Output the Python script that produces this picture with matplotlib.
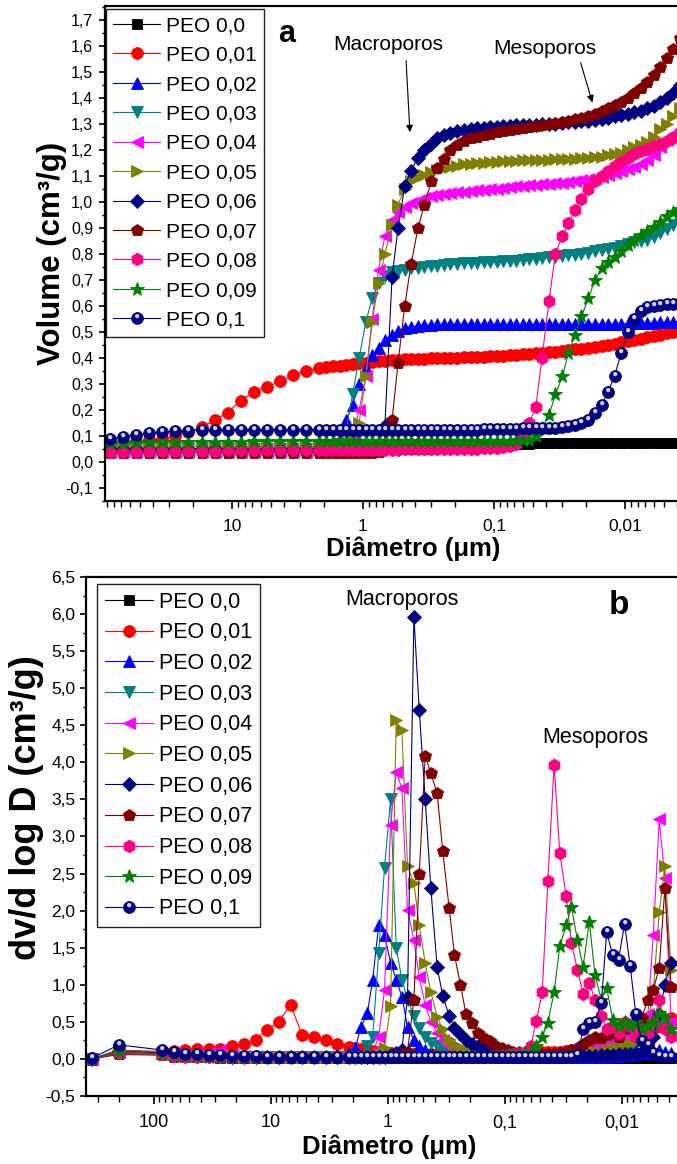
import numpy as np
import matplotlib
matplotlib.use("Agg")
import matplotlib.pyplot as plt
from matplotlib.ticker import MultipleLocator, LogLocator, FuncFormatter, NullFormatter
from matplotlib.path import Path
from matplotlib.transforms import Affine2D
from matplotlib.legend_handler import HandlerTuple

plt.rcParams["font.family"] = ["Liberation Sans", "DejaVu Sans"]

# Diâmetro de poro (μm), comum às duas curvas
diametro = [340, 200, 85, 68, 54, 43, 34, 27, 21.5, 17,
            13.5, 10.8, 8.6, 6.8, 5.4, 4.3, 3.4, 2.7, 2.15,
            1.9, 1.7, 1.5, 1.35, 1.2, 1.07, 0.95, 0.85, 0.76, 0.68,
            0.6, 0.54, 0.48, 0.43, 0.38, 0.34, 0.3, 0.27, 0.24, 0.215,
            0.19, 0.17, 0.15, 0.135, 0.12, 0.107, 0.095, 0.085, 0.076, 0.068,
            0.06, 0.054, 0.048, 0.043, 0.038, 0.034, 0.03, 0.027, 0.024, 0.0215,
            0.019, 0.017, 0.015, 0.0135, 0.012, 0.0107, 0.0095, 0.0085, 0.0076, 0.0068,
            0.006, 0.0054, 0.0048, 0.0043, 0.0038]

rotulos = ["PEO 0,0", "PEO 0,01", "PEO 0,02", "PEO 0,03", "PEO 0,04", "PEO 0,05",
           "PEO 0,06", "PEO 0,07", "PEO 0,08", "PEO 0,09", "PEO 0,1"]

# ---- (a) volume acumulado (cm³/g)
vol_000 = [0.05, 0.05, 0.05, 0.05, 0.05, 0.05, 0.05, 0.05, 0.05, 0.05,
           0.05, 0.05, 0.05, 0.05, 0.05, 0.05, 0.05, 0.05, 0.05,
           0.05, 0.05, 0.05, 0.05, 0.05, 0.05, 0.05, 0.05, 0.05, 0.05,
           0.05, 0.05, 0.05, 0.05, 0.051, 0.051, 0.052, 0.052, 0.053, 0.053,
           0.054, 0.055, 0.056, 0.057, 0.058, 0.06, 0.062, 0.064, 0.066, 0.068,
           0.07, 0.071, 0.072, 0.072, 0.073, 0.073, 0.073, 0.073, 0.073, 0.073,
           0.073, 0.073, 0.073, 0.073, 0.073, 0.073, 0.073, 0.073, 0.073, 0.073,
           0.073, 0.073, 0.073, 0.073, 0.073]
vol_001 = [0.06, 0.065, 0.07, 0.075, 0.08, 0.085, 0.09, 0.1, 0.115, 0.135,
           0.16, 0.19, 0.235, 0.27, 0.29, 0.31, 0.335, 0.35, 0.36,
           0.365, 0.368, 0.371, 0.374, 0.377, 0.38, 0.382, 0.385, 0.387, 0.39,
           0.392, 0.394, 0.395, 0.396, 0.397, 0.398, 0.399, 0.4, 0.4, 0.4,
           0.401, 0.402, 0.403, 0.404, 0.405, 0.406, 0.407, 0.408, 0.41, 0.412,
           0.414, 0.416, 0.418, 0.42, 0.422, 0.425, 0.428, 0.43, 0.433, 0.436,
           0.44, 0.443, 0.447, 0.451, 0.455, 0.46, 0.465, 0.47, 0.475, 0.48,
           0.485, 0.49, 0.495, 0.5, 0.505]
vol_002 = [0.05, 0.055, 0.06, 0.06, 0.06, 0.06, 0.06, 0.06, 0.06, 0.06,
           0.06, 0.06, 0.06, 0.06, 0.06, 0.06, 0.06, 0.06, 0.06,
           0.06, 0.065, 0.09, 0.16, 0.22, 0.3, 0.36, 0.41, 0.44, 0.47,
           0.49, 0.505, 0.515, 0.52, 0.525, 0.527, 0.528, 0.529, 0.53, 0.53,
           0.53, 0.53, 0.53, 0.53, 0.53, 0.53, 0.53, 0.53, 0.53, 0.53,
           0.53, 0.53, 0.53, 0.53, 0.53, 0.53, 0.53, 0.53, 0.53, 0.53,
           0.53, 0.53, 0.53, 0.53, 0.53, 0.531, 0.532, 0.533, 0.534, 0.535,
           0.536, 0.537, 0.538, 0.539, 0.54]
vol_003 = [0.04, 0.045, 0.05, 0.05, 0.05, 0.05, 0.05, 0.05, 0.05, 0.05,
           0.05, 0.05, 0.05, 0.05, 0.05, 0.05, 0.05, 0.05, 0.05,
           0.055, 0.06, 0.07, 0.12, 0.26, 0.4, 0.54, 0.63, 0.69, 0.715,
           0.73, 0.735, 0.74, 0.745, 0.748, 0.75, 0.752, 0.755, 0.757, 0.76,
           0.762, 0.764, 0.765, 0.767, 0.768, 0.77, 0.771, 0.772, 0.774, 0.775,
           0.778, 0.78, 0.782, 0.785, 0.788, 0.79, 0.792, 0.795, 0.798, 0.8,
           0.805, 0.81, 0.815, 0.82, 0.825, 0.83, 0.838, 0.845, 0.85, 0.855,
           0.865, 0.88, 0.895, 0.91, 0.925]
vol_004 = [0.035, 0.04, 0.04, 0.04, 0.04, 0.04, 0.04, 0.04, 0.04, 0.04,
           0.04, 0.04, 0.04, 0.04, 0.04, 0.04, 0.04, 0.04, 0.04,
           0.045, 0.05, 0.055, 0.06, 0.1, 0.2, 0.33, 0.55, 0.74, 0.87,
           0.93, 0.96, 0.98, 0.995, 1.005, 1.015, 1.022, 1.028, 1.032, 1.035,
           1.038, 1.04, 1.042, 1.045, 1.047, 1.05, 1.052, 1.055, 1.057, 1.06,
           1.062, 1.064, 1.066, 1.068, 1.07, 1.072, 1.075, 1.078, 1.08, 1.083,
           1.087, 1.092, 1.098, 1.104, 1.11, 1.118, 1.126, 1.135, 1.145, 1.16,
           1.18, 1.21, 1.24, 1.26, 1.28]
vol_005 = [0.05, 0.055, 0.06, 0.06, 0.06, 0.06, 0.06, 0.06, 0.06, 0.06,
           0.06, 0.06, 0.06, 0.06, 0.06, 0.06, 0.06, 0.06, 0.06,
           0.06, 0.06, 0.065, 0.07, 0.08, 0.15, 0.33, 0.54, 0.69, 0.8,
           0.91, 0.99, 1.05, 1.08, 1.095, 1.105, 1.115, 1.122, 1.13, 1.135,
           1.14, 1.145, 1.148, 1.15, 1.152, 1.154, 1.155, 1.156, 1.157, 1.158,
           1.16, 1.16, 1.161, 1.162, 1.163, 1.164, 1.165, 1.166, 1.167, 1.168,
           1.17, 1.172, 1.175, 1.18, 1.185, 1.19, 1.2, 1.21, 1.22, 1.23,
           1.25, 1.28, 1.3, 1.33, 1.36]
vol_006 = [0.04, 0.045, 0.05, 0.05, 0.05, 0.05, 0.05, 0.05, 0.05, 0.05,
           0.05, 0.05, 0.05, 0.05, 0.05, 0.05, 0.05, 0.05, 0.05,
           0.05, 0.05, 0.05, 0.05, 0.05, 0.05, 0.055, 0.06, 0.07, 0.14,
           0.71, 0.9, 1.06, 1.12, 1.17, 1.2, 1.225, 1.245, 1.258, 1.266,
           1.272, 1.276, 1.28, 1.283, 1.286, 1.288, 1.29, 1.292, 1.294, 1.295,
           1.296, 1.297, 1.298, 1.3, 1.3, 1.302, 1.304, 1.306, 1.308, 1.31,
           1.313, 1.316, 1.32, 1.325, 1.33, 1.335, 1.34, 1.345, 1.35, 1.36,
           1.37, 1.385, 1.4, 1.42, 1.45]
vol_007 = [0.03, 0.035, 0.035, 0.035, 0.035, 0.035, 0.035, 0.035, 0.035, 0.035,
           0.035, 0.035, 0.035, 0.035, 0.035, 0.035, 0.035, 0.035, 0.035,
           0.035, 0.035, 0.035, 0.035, 0.035, 0.035, 0.035, 0.035, 0.04, 0.05,
           0.16, 0.38, 0.6, 0.76, 0.9, 0.99, 1.08, 1.13, 1.165, 1.2,
           1.22, 1.235, 1.245, 1.252, 1.258, 1.263, 1.268, 1.272, 1.276, 1.28,
           1.284, 1.288, 1.292, 1.296, 1.3, 1.304, 1.308, 1.313, 1.318, 1.324,
           1.33, 1.34, 1.35, 1.36, 1.372, 1.385, 1.4, 1.42, 1.44, 1.46,
           1.49, 1.52, 1.555, 1.59, 1.63]
vol_008 = [0.035, 0.04, 0.04, 0.04, 0.04, 0.042, 0.042, 0.043, 0.043, 0.044,
           0.044, 0.045, 0.045, 0.045, 0.045, 0.046, 0.046, 0.046, 0.046,
           0.046, 0.046, 0.047, 0.047, 0.047, 0.047, 0.048, 0.048, 0.048, 0.048,
           0.048, 0.048, 0.049, 0.049, 0.049, 0.049, 0.05, 0.05, 0.05, 0.05,
           0.05, 0.05, 0.051, 0.051, 0.052, 0.053, 0.054, 0.056, 0.06, 0.07,
           0.1, 0.15, 0.21, 0.4, 0.62, 0.8, 0.87, 0.92, 0.97, 1.01,
           1.05, 1.08, 1.1, 1.12, 1.14, 1.155, 1.17, 1.185, 1.195, 1.205,
           1.215, 1.225, 1.235, 1.245, 1.255]
vol_009 = [0.07, 0.075, 0.075, 0.075, 0.076, 0.076, 0.077, 0.077, 0.077, 0.078,
           0.078, 0.078, 0.078, 0.079, 0.079, 0.079, 0.08, 0.08, 0.08,
           0.08, 0.08, 0.08, 0.08, 0.08, 0.08, 0.08, 0.08, 0.08, 0.08,
           0.08, 0.08, 0.08, 0.08, 0.08, 0.08, 0.08, 0.08, 0.08, 0.08,
           0.08, 0.08, 0.08, 0.08, 0.08, 0.081, 0.081, 0.082, 0.082, 0.083,
           0.084, 0.085, 0.1, 0.13, 0.18, 0.26, 0.33, 0.42, 0.49, 0.56,
           0.63, 0.7, 0.745, 0.77, 0.79, 0.81, 0.835, 0.855, 0.875, 0.89,
           0.905, 0.925, 0.945, 0.96, 0.975]
vol_010 = [0.08, 0.085, 0.09, 0.097, 0.105, 0.11, 0.115, 0.118, 0.121, 0.123,
           0.124, 0.125, 0.125, 0.125, 0.125, 0.125, 0.125, 0.125, 0.125,
           0.125, 0.125, 0.125, 0.125, 0.125, 0.125, 0.125, 0.125, 0.125, 0.125,
           0.125, 0.125, 0.125, 0.125, 0.125, 0.125, 0.125, 0.125, 0.125, 0.125,
           0.125, 0.125, 0.125, 0.125, 0.126, 0.126, 0.127, 0.127, 0.128, 0.128,
           0.129, 0.129, 0.13, 0.13, 0.13, 0.13, 0.135, 0.137, 0.142, 0.15,
           0.16, 0.19, 0.22, 0.27, 0.33, 0.42, 0.5, 0.55, 0.58, 0.595,
           0.6, 0.605, 0.607, 0.608, 0.61]

# ---- (b) distribuição dV/dlogD (cm³/g)
dv_000 = [0.0, 0.08, 0.06, 0.04, 0.03, 0.02, 0.02, 0.01, 0.01, 0.01,
          0.01, 0.01, 0.01, 0.01, 0.01, 0.01, 0.01, 0.01, 0.01,
          0.01, 0.01, 0.01, 0.01, 0.01, 0.01, 0.01, 0.01, 0.01, 0.01,
          0.01, 0.01, 0.01, 0.01, 0.01, 0.01, 0.01, 0.01, 0.01, 0.01,
          0.01, 0.01, 0.01, 0.015, 0.02, 0.025, 0.03, 0.04, 0.05, 0.05,
          0.05, 0.04, 0.03, 0.02, 0.02, 0.02, 0.01, 0.01, 0.01, 0.01,
          0.01, 0.01, 0.01, 0.01, 0.01, 0.01, 0.01, 0.01, 0.01, 0.01,
          0.01, 0.01, 0.01, 0.01, 0.01]
dv_001 = [0.0, 0.12, 0.1, 0.11, 0.12, 0.13, 0.13, 0.14, 0.17, 0.2,
          0.26, 0.39, 0.5, 0.73, 0.32, 0.3, 0.26, 0.2, 0.16,
          0.15, 0.14, 0.12, 0.11, 0.1, 0.09, 0.08, 0.08, 0.07, 0.07,
          0.07, 0.06, 0.06, 0.06, 0.06, 0.05, 0.05, 0.05, 0.05, 0.05,
          0.05, 0.05, 0.05, 0.05, 0.06, 0.06, 0.06, 0.07, 0.07, 0.08,
          0.08, 0.09, 0.09, 0.1, 0.1, 0.1, 0.11, 0.12, 0.12, 0.13,
          0.14, 0.15, 0.16, 0.18, 0.2, 0.22, 0.25, 0.28, 0.3, 0.32,
          0.35, 0.4, 0.45, 0.5, 0.55]
dv_002 = [0.0, 0.12, 0.08, 0.06, 0.05, 0.05, 0.04, 0.04, 0.04, 0.04,
          0.04, 0.04, 0.04, 0.04, 0.04, 0.04, 0.04, 0.05, 0.08,
          0.15, 0.43, 0.62, 1.07, 1.81, 1.67, 1.3, 1.07, 0.84, 0.43,
          0.26, 0.18, 0.12, 0.08, 0.06, 0.05, 0.04, 0.04, 0.03, 0.03,
          0.03, 0.03, 0.03, 0.03, 0.03, 0.03, 0.03, 0.03, 0.03, 0.03,
          0.03, 0.03, 0.03, 0.03, 0.03, 0.03, 0.03, 0.03, 0.03, 0.03,
          0.03, 0.03, 0.03, 0.03, 0.04, 0.04, 0.05, 0.05, 0.06, 0.08,
          0.08, 0.1, 0.12, 0.1, 0.08]
dv_003 = [0.0, 0.1, 0.07, 0.05, 0.04, 0.03, 0.03, 0.02, 0.02, 0.02,
          0.02, 0.02, 0.02, 0.02, 0.02, 0.02, 0.02, 0.02, 0.02,
          0.02, 0.03, 0.18, 0.3, 1.43, 2.58, 3.5, 1.5, 1.07, 0.8,
          0.58, 0.42, 0.3, 0.22, 0.18, 0.12, 0.08, 0.06, 0.05, 0.04,
          0.04, 0.03, 0.03, 0.03, 0.03, 0.03, 0.03, 0.03, 0.03, 0.03,
          0.03, 0.03, 0.03, 0.03, 0.03, 0.03, 0.03, 0.03, 0.03, 0.03,
          0.03, 0.04, 0.05, 0.06, 0.08, 0.1, 0.12, 0.15, 0.2, 0.25,
          0.3, 0.4, 0.5, 0.4, 0.3]
dv_004 = [0.0, 0.1, 0.06, 0.05, 0.04, 0.06, 0.08, 0.12, 0.05, 0.04,
          0.04, 0.03, 0.03, 0.03, 0.03, 0.03, 0.03, 0.03, 0.03,
          0.03, 0.03, 0.04, 0.08, 0.3, 0.93, 3.16, 3.87, 3.65, 2.01,
          1.6, 1.1, 0.73, 0.5, 0.35, 0.25, 0.18, 0.12, 0.1, 0.08,
          0.06, 0.05, 0.04, 0.04, 0.04, 0.04, 0.04, 0.04, 0.04, 0.04,
          0.04, 0.04, 0.05, 0.05, 0.05, 0.06, 0.06, 0.07, 0.08, 0.1,
          0.12, 0.15, 0.18, 0.2, 0.25, 0.3, 0.3, 0.35, 0.4, 0.45,
          0.6, 1.67, 3.23, 2.44, 0.5]
dv_005 = [0.0, 0.12, 0.08, 0.06, 0.05, 0.05, 0.04, 0.04, 0.04, 0.03,
          0.03, 0.03, 0.03, 0.03, 0.03, 0.03, 0.03, 0.03, 0.03,
          0.03, 0.03, 0.03, 0.04, 0.06, 0.15, 0.71, 4.57, 4.43, 2.6,
          2.37, 1.8, 1.29, 0.9, 0.57, 0.4, 0.27, 0.2, 0.16, 0.12,
          0.1, 0.08, 0.06, 0.05, 0.05, 0.04, 0.04, 0.04, 0.04, 0.04,
          0.04, 0.04, 0.04, 0.04, 0.04, 0.05, 0.05, 0.06, 0.07, 0.08,
          0.1, 0.1, 0.1, 0.12, 0.15, 0.15, 0.2, 0.2, 0.25, 0.3,
          0.5, 0.9, 1.98, 2.6, 1.2]
dv_006 = [0.0, 0.1, 0.08, 0.06, 0.05, 0.05, 0.04, 0.04, 0.03, 0.03,
          0.03, 0.03, 0.03, 0.02, 0.02, 0.02, 0.02, 0.02, 0.02,
          0.02, 0.02, 0.02, 0.02, 0.03, 0.03, 0.05, 0.08, 0.12, 0.84,
          5.96, 4.7, 3.5, 2.3, 1.24, 0.85, 0.58, 0.42, 0.33, 0.26,
          0.2, 0.17, 0.12, 0.09, 0.07, 0.05, 0.04, 0.04, 0.04, 0.04,
          0.04, 0.04, 0.04, 0.04, 0.04, 0.04, 0.04, 0.04, 0.04, 0.04,
          0.04, 0.04, 0.05, 0.05, 0.05, 0.06, 0.06, 0.07, 0.08, 0.1,
          0.15, 0.3, 0.6, 1.0, 1.3]
dv_007 = [0.0, 0.06, 0.05, 0.03, 0.02, 0.02, 0.02, 0.02, 0.02, 0.02,
          0.02, 0.02, 0.02, 0.02, 0.02, 0.02, 0.02, 0.02, 0.02,
          0.02, 0.02, 0.02, 0.02, 0.02, 0.02, 0.03, 0.04, 0.06, 0.1,
          0.8, 2.5, 4.09, 3.85, 3.59, 2.8, 2.04, 1.4, 1.0, 0.6,
          0.48, 0.35, 0.28, 0.24, 0.18, 0.15, 0.12, 0.1, 0.09, 0.08,
          0.07, 0.07, 0.06, 0.06, 0.07, 0.08, 0.1, 0.12, 0.15, 0.2,
          0.25, 0.3, 0.28, 0.32, 0.35, 0.3, 0.4, 0.45, 0.5, 0.55,
          0.8, 0.93, 1.23, 2.3, 0.97]
dv_008 = [0.0, 0.08, 0.06, 0.04, 0.03, 0.02, 0.02, 0.02, 0.02, 0.02,
          0.02, 0.02, 0.02, 0.02, 0.02, 0.02, 0.02, 0.02, 0.02,
          0.02, 0.02, 0.02, 0.02, 0.02, 0.02, 0.02, 0.02, 0.02, 0.02,
          0.02, 0.02, 0.02, 0.02, 0.02, 0.02, 0.02, 0.02, 0.02, 0.02,
          0.02, 0.02, 0.02, 0.03, 0.03, 0.04, 0.05, 0.06, 0.08, 0.1,
          0.17, 0.51, 0.9, 2.4, 3.97, 2.78, 2.2, 1.56, 1.2, 0.88,
          1.02, 0.8, 0.58, 0.4, 0.45, 0.35, 0.5, 0.45, 0.3, 0.4,
          0.35, 0.5, 0.8, 0.4, 0.3]
dv_009 = [0.0, 0.1, 0.07, 0.05, 0.04, 0.04, 0.03, 0.03, 0.03, 0.03,
          0.03, 0.03, 0.03, 0.03, 0.03, 0.03, 0.03, 0.03, 0.03,
          0.03, 0.03, 0.03, 0.03, 0.03, 0.03, 0.03, 0.03, 0.03, 0.03,
          0.03, 0.03, 0.03, 0.03, 0.03, 0.03, 0.03, 0.03, 0.03, 0.03,
          0.03, 0.03, 0.03, 0.03, 0.04, 0.04, 0.05, 0.05, 0.06, 0.08,
          0.1, 0.18, 0.3, 0.49, 0.9, 1.52, 1.8, 2.05, 1.6, 1.24,
          1.85, 1.13, 0.8, 0.96, 0.53, 0.45, 0.5, 0.45, 0.5, 0.4,
          0.45, 0.5, 0.62, 0.55, 0.4]
dv_010 = [0.01, 0.19, 0.12, 0.09, 0.07, 0.06, 0.05, 0.05, 0.04, 0.04,
          0.04, 0.03, 0.03, 0.03, 0.03, 0.03, 0.02, 0.02, 0.02,
          0.02, 0.02, 0.02, 0.02, 0.02, 0.02, 0.02, 0.02, 0.02, 0.02,
          0.02, 0.02, 0.02, 0.02, 0.02, 0.02, 0.02, 0.02, 0.02, 0.02,
          0.02, 0.02, 0.02, 0.02, 0.02, 0.02, 0.02, 0.02, 0.02, 0.02,
          0.02, 0.02, 0.02, 0.02, 0.02, 0.02, 0.03, 0.03, 0.05, 0.4,
          0.48, 0.5, 0.75, 1.71, 1.4, 1.34, 1.82, 1.25, 0.6, 0.24,
          0.19, 0.08, 0.04, 0.03, 0.03]

volumes = [vol_000, vol_001, vol_002, vol_003, vol_004, vol_005,
           vol_006, vol_007, vol_008, vol_009, vol_010]
derivadas = [dv_000, dv_001, dv_002, dv_003, dv_004, dv_005,
             dv_006, dv_007, dv_008, dv_009, dv_010]

cores = ["#000000", "#FF0000", "#0000FF", "#008080", "#FF00FF", "#808000",
         "#000080", "#800000", "#FF0080", "#008000", "#000080"]
marcadores = ["s", "o", "^", "v", "<", ">", "D", "p", "h", "*", "o"]
tamanhos = [6.5, 8.5, 8.5, 8.5, 8.5, 8.5, 7, 9, 9, 10, 8.5]

W, H = 677, 1164

# brilho da esfera usada no PEO 0,1
brilho = Path.unit_circle().transformed(Affine2D().scale(0.36).translate(-0.05, 0.4))
escala_brilho = np.abs(brilho.vertices).max()


def rotulo_virgula(v, pos):
    v = round(v, 2)
    if v == 0:
        v = 0.0
    return f"{v:.1f}".replace(".", ",")


def rotulo_diametro(v, pos):
    return f"{v:g}".replace(".", ",")


def desenha_series(ax, valores):
    handles = []
    for i, v in enumerate(valores):
        ln, = ax.plot(diametro, v, color=cores[i], marker=marcadores[i], ms=tamanhos[i],
                      lw=0.8, mec=cores[i], mew=0.6)
        if i == len(valores) - 1:
            hl, = ax.plot(diametro, v, ls="none", marker=brilho,
                          ms=tamanhos[i] * escala_brilho, color="#d4d4f6", mew=0)
            handles.append((ln, hl))
        else:
            handles.append(ln)
    return handles


def formata_eixos(ax, xlim, ylim, passo, tam_x, tam_y, pad_x, pad_y):
    ax.set_xscale("log")
    ax.set_xlim(xlim)
    ax.set_ylim(ylim)
    ax.xaxis.set_major_locator(LogLocator(base=10))
    ax.xaxis.set_minor_locator(LogLocator(base=10, subs=np.arange(2, 10)))
    ax.xaxis.set_major_formatter(FuncFormatter(rotulo_diametro))
    ax.xaxis.set_minor_formatter(NullFormatter())
    ax.yaxis.set_major_locator(MultipleLocator(passo))
    ax.yaxis.set_minor_locator(MultipleLocator(passo / 2))
    ax.yaxis.set_major_formatter(FuncFormatter(rotulo_virgula))
    ax.tick_params(which="both", direction="out", top=False, right=False)
    ax.tick_params(axis="x", which="major", length=6, width=1.2, labelsize=tam_x, pad=pad_x)
    ax.tick_params(axis="x", which="minor", length=4, width=1.0)
    ax.tick_params(axis="y", which="major", length=4.5, width=1.2, labelsize=tam_y, pad=pad_y)
    ax.tick_params(axis="y", which="minor", length=2.5, width=1.0)
    for s in ax.spines.values():
        s.set_linewidth(1.6)


fig = plt.figure(figsize=(W / 100, H / 100), dpi=100)

# ---------------- (a) volume acumulado
ax_a = fig.add_axes([105 / W, 1 - 501 / H, (690 - 105) / W, (501 - 6) / H])
h_a = desenha_series(ax_a, volumes)
formata_eixos(ax_a, (93.1, 0.00319), (-0.15, 1.754), 0.1, 12.5, 11.5, 7, 4)
leg_a = ax_a.legend(h_a, rotulos, handler_map={tuple: HandlerTuple()},
                    loc="upper left", bbox_to_anchor=(1 / 585, 1 - 3 / 495),
                    borderaxespad=0, fontsize=15, handlelength=2.25, handletextpad=0.3,
                    labelspacing=0.5, borderpad=0.35, fancybox=False, framealpha=1,
                    edgecolor="#222222")
leg_a.get_frame().set_linewidth(1.0)

ax_a.text(3.8, 1.646, "a", fontsize=22, fontweight="bold", ha="center", va="center")
ax_a.text(0.644, 1.604, "Macroporos", fontsize=15, ha="center", va="center")
ax_a.text(0.041, 1.592, "Mesoporos", fontsize=15, ha="center", va="center")
ax_a.annotate("", xy=(0.437, 1.258), xytext=(0.47, 1.554),
              arrowprops=dict(arrowstyle="-|>", color="k", lw=0.8, mutation_scale=10))
ax_a.annotate("", xy=(0.0175, 1.373), xytext=(0.0221, 1.546),
              arrowprops=dict(arrowstyle="-|>", color="k", lw=0.8, mutation_scale=10))

# ---------------- (b) dV/dlogD
ax_b = fig.add_axes([86 / W, 1 - 1096 / H, (690 - 86) / W, (1096 - 577) / H])
h_b = desenha_series(ax_b, derivadas)
formata_eixos(ax_b, (381, 0.00262), (-0.5, 6.5), 0.5, 13, 12.5, 7, 3)
leg_b = ax_b.legend(h_b, rotulos, handler_map={tuple: HandlerTuple()},
                    loc="upper left", bbox_to_anchor=(11 / 604, 1 - 7 / 519),
                    borderaxespad=0, fontsize=15.5, handlelength=2.25, handletextpad=0.3,
                    labelspacing=0.45, borderpad=0.35, fancybox=False, framealpha=1,
                    edgecolor="#222222")
leg_b.get_frame().set_linewidth(1.0)

ax_b.text(0.0106, 6.11, "b", fontsize=24, fontweight="bold", ha="center", va="center")
ax_b.text(0.758, 6.19, "Macroporos", fontsize=15.5, ha="center", va="center")
ax_b.text(0.017, 4.33, "Mesoporos", fontsize=15.5, ha="center", va="center")

# títulos dos eixos
fig.text(52 / W, 1 - 253 / H, "Volume (cm³/g)", rotation=90, fontsize=22.5,
         fontweight="bold", ha="center", va="center")
fig.text(413 / W, 1 - 549 / H, "Diâmetro (μm)", fontsize=18.5,
         fontweight="bold", ha="center", va="center")
fig.text(27 / W, 1 - 808 / H, "dv/d log D (cm³/g)", rotation=90, fontsize=26,
         fontweight="bold", ha="center", va="center")
fig.text(389 / W, 1 - 1147 / H, "Diâmetro (μm)", fontsize=18.5,
         fontweight="bold", ha="center", va="center")

fig.savefig("out.png", dpi=100)
